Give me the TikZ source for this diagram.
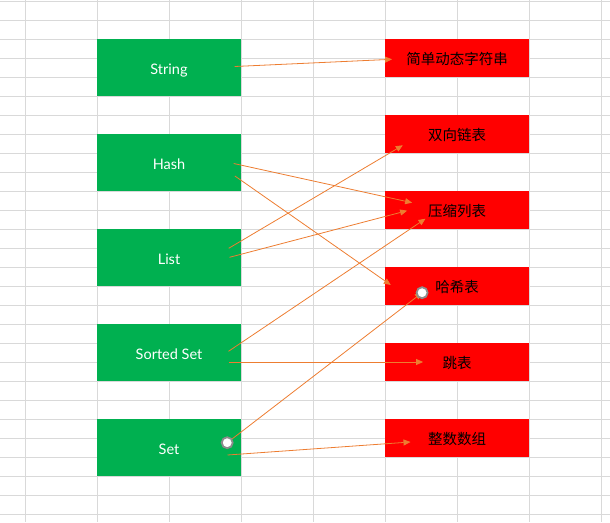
\documentclass[tikz,border=0pt]{standalone}
\usepackage{fontspec}
\setmainfont{Lato}
\newfontfamily\cjk{Noto Sans CJK SC}
\usetikzlibrary{arrows.meta, calc}
\definecolor{boxgreen}{HTML}{00B050}
\definecolor{boxred}{HTML}{FF0000}
\definecolor{linkorange}{HTML}{ED7D31}
\definecolor{gridgray}{HTML}{D9D9D9}
\tikzset{
  typebox/.style={
    rectangle, fill=boxgreen, minimum width=144pt, minimum height=57pt,
    inner sep=0pt, text=white, font=\fontsize{14.5}{16}\selectfont,
    text height=12.8pt, text depth=0pt,
  },
  encbox/.style={
    rectangle, fill=boxred, minimum width=144pt, minimum height=38pt,
    inner sep=0pt, text=black, font=\fontsize{14.5}{16}\selectfont\cjk,
    text height=13pt, text depth=0pt,
  },
  link/.style={
    -{Triangle[length=7pt,width=6pt]}, line width=0.8pt, draw=linkorange,
  },
  handle/.style={
    circle, draw=black!45, line width=1.8pt, fill=white,
    minimum size=11pt, inner sep=0pt,
  },
  gridline/.style={draw=gridgray, line width=0.9pt},
}
\begin{document}
\begin{tikzpicture}[x=1pt, y=-1pt]

  \useasboundingbox (0,0) rectangle (610,522);

  % sheet grid
  \foreach \gx in {0,...,8}
    \draw[gridline] ({25+72*\gx},0) -- ({25+72*\gx},522);
  \foreach \gy in {0,...,27}
    \draw[gridline] (0,{1.3+19*\gy}) -- (610,{1.3+19*\gy});

  % object types
  \node[typebox] (string) at (169, 67.8)  {String};
  \node[typebox] (hash)   at (169, 162.8) {Hash};
  \node[typebox] (list)   at (169, 257.8) {List};
  \node[typebox] (zset)   at (169, 352.8) {Sorted Set};
  \node[typebox] (set)    at (169, 447.8) {Set};

  % encodings
  \node[encbox] (sds)        at (457, 58.3)  {简单动态字符串};
  \node[encbox] (linkedlist) at (457, 134.3) {双向链表};
  \node[encbox] (ziplist)    at (457, 210.3) {压缩列表};
  \node[encbox] (hashtable)  at (457, 286.3) {哈希表};
  \node[encbox] (skiplist)   at (457, 362.3) {跳表};
  \node[encbox] (intset)     at (457, 438.3) {整数数组};

  % links
  \draw[link] ([shift={(-6.5,-1.3)}]string.east) -- ([shift={(7.3,1)}]sds.west);
  \draw[link] ([shift={(-7.5,0.7)}]hash.east) -- ([shift={(27.3,-7.6)}]ziplist.west);
  \draw[link] ([shift={(-6.3,13.2)}]hash.east) -- ([shift={(6,-1.3)}]hashtable.west);
  \draw[link] ([shift={(-12.5,-9.5)}]list.east) -- ([shift={(18,11)}]linkedlist.west);
  \draw[link] ([shift={(-11.7,-0.5)}]list.east) -- ([shift={(22.3,0.4)}]ziplist.west);
  \draw[link] ([shift={(-12.7,-1.5)}]zset.east) -- ([shift={(40.7,8.4)}]ziplist.west);
  \draw[link] ([shift={(-12.3,9.2)}]zset.east) -- ([shift={(38.3,-0.3)}]skiplist.west);
  \coordinate (setout) at ([shift={(-14,-5.1)}]set.east);
  \coordinate (hashin) at ([shift={(37.3,6.4)}]hashtable.west);
  \draw[link] (setout) -- (hashin);
  \draw[link] ([shift={(-13.7,7.2)}]set.east) -- ([shift={(25.7,3.7)}]intset.west);

  % selected connector
  \node[handle] (setgrip)  at (setout) {};
  \node[handle] (hashgrip) at (hashin) {};

\end{tikzpicture}
\end{document}
